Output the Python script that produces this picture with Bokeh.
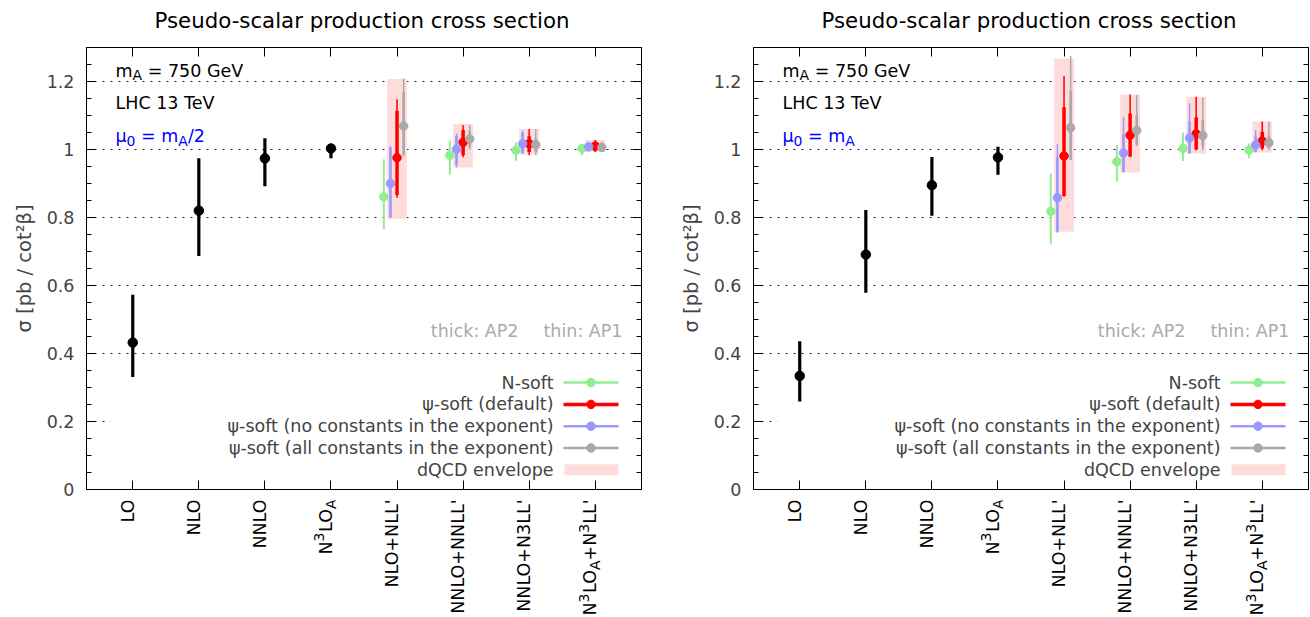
from math import pi
import numpy as np
from bokeh.plotting import figure
from bokeh.models import (ColumnDataSource, Range1d, LinearAxis, FixedTicker, Label,
                          CustomLabelingPolicy)
from bokeh.layouts import row, column
from bokeh.embed import file_html
from bokeh.resources import INLINE

# ---------------- data ----------------
categories = ["LO", "NLO", "NNLO", "N^3LO_A", "NLO+NLL'", "NNLO+NNLL'", "NNLO+N3LL'", "N^3LO_A+N^3LL'"]
fo_pos = [1, 2, 3, 4]
res_pos = [5, 6, 7, 8]

# left panel  (mu0 = mA/2)
L_fo_val = [0.432, 0.820, 0.974, 1.003]
L_fo_lo = [0.331, 0.687, 0.892, 0.974]
L_fo_hi = [0.573, 0.974, 1.033, 1.010]
L_ns_val = [0.861, 0.983, 0.998, 1.003]
L_ns_lo = [0.765, 0.926, 0.967, 0.983]
L_ns_hi = [0.971, 1.026, 1.021, 1.016]
L_def_val = [0.976, 1.021, 1.017, 1.010]
L_def_ap2_lo = [0.866, 0.983, 0.993, 0.996]
L_def_ap2_hi = [1.114, 1.057, 1.039, 1.020]
L_def_ap1_lo = [0.858, 0.977, 0.983, 0.993]
L_def_ap1_hi = [1.148, 1.072, 1.060, 1.028]
L_nc_val = [0.900, 1.001, 1.017, 1.008]
L_nc_ap2_lo = [0.800, 0.955, 0.988, 0.996]
L_nc_ap2_hi = [1.005, 1.040, 1.050, 1.018]
L_nc_ap1_lo = [0.799, 0.947, 0.988, 0.996]
L_nc_ap1_hi = [1.010, 1.047, 1.055, 1.021]
L_ac_val = [1.069, 1.031, 1.014, 1.006]
L_ac_ap2_lo = [0.983, 1.007, 0.993, 0.995]
L_ac_ap2_hi = [1.170, 1.055, 1.033, 1.018]
L_ac_ap1_lo = [0.980, 1.000, 0.983, 0.993]
L_ac_ap1_hi = [1.209, 1.072, 1.060, 1.023]
L_env_lo = [0.796, 0.947, 0.985, 0.993]
L_env_hi = [1.207, 1.075, 1.060, 1.028]

# right panel (mu0 = mA)
R_fo_val = [0.334, 0.691, 0.895, 0.977]
R_fo_lo = [0.259, 0.579, 0.805, 0.926]
R_fo_hi = [0.436, 0.822, 0.978, 1.008]
R_ns_val = [0.818, 0.964, 1.003, 0.998]
R_ns_lo = [0.721, 0.905, 0.966, 0.974]
R_ns_hi = [0.930, 1.013, 1.050, 1.018]
R_def_val = [0.981, 1.042, 1.046, 1.025]
R_def_ap2_lo = [0.863, 0.979, 1.000, 1.003]
R_def_ap2_hi = [1.124, 1.106, 1.095, 1.052]
R_def_ap1_lo = [0.861, 0.979, 0.998, 0.998]
R_def_ap1_hi = [1.216, 1.162, 1.155, 1.082]
R_nc_val = [0.858, 0.990, 1.034, 1.013]
R_nc_ap2_lo = [0.758, 0.934, 0.988, 0.993]
R_nc_ap2_hi = [0.977, 1.044, 1.082, 1.038]
R_nc_ap1_lo = [0.755, 0.932, 0.988, 0.991]
R_nc_ap1_hi = [1.016, 1.095, 1.136, 1.057]
R_ac_val = [1.064, 1.056, 1.041, 1.020]
R_ac_ap2_lo = [0.969, 1.013, 1.008, 1.005]
R_ac_ap2_hi = [1.172, 1.103, 1.087, 1.042]
R_ac_ap1_lo = [0.969, 1.010, 0.998, 0.998]
R_ac_ap1_hi = [1.275, 1.160, 1.152, 1.082]
R_env_lo = [0.758, 0.932, 0.988, 0.991]
R_env_hi = [1.268, 1.162, 1.155, 1.082]

y_ticks = [0.0, 0.2, 0.4, 0.6, 0.8, 1.0, 1.2]
y_tick_labels = ["0", "0.2", "0.4", "0.6", "0.8", "1", "1.2"]

title_text = "Pseudo-scalar production cross section"
ylabel_text = "σ [pb / cot²β]"
legend_labels = ["N-soft", "ψ-soft (default)", "ψ-soft (no constants in the exponent)",
                 "ψ-soft (all constants in the exponent)", "dQCD envelope"]

# ---------------- styling ----------------
FONT = "DejaVu Sans"
FS = 17.5
FW, FH = 555, 442
HEAD = 45          # header strip (title)
TOP = 2            # main figure top border
BOT = 11           # main figure bottom border
LH = 617 - HEAD - TOP - FH - BOT
XR = (0.3, 8.7)
YR = (0.0, 1.3)
XS = FW / (XR[1] - XR[0])
YS = FH / (YR[1] - YR[0])
C_GREEN = "#90ee90"
C_RED = "#ff0000"
C_BLUE = "#9999ff"
C_GRAY = "#a9a9a9"
C_ENV = "#ffdcdc"
C_NOTE = "#aaaaaa"

# DejaVu Sans advance widths (units per em 2048)
W = {' ': 651, "'": 563, '(': 799, ')': 799, '+': 1716, '-': 739, '.': 651, '/': 690,
     ':': 690, '=': 1716, 'A': 1401, 'C': 1430, 'G': 1589, 'H': 1540, 'L': 1141,
     'N': 1532, 'O': 1612, 'P': 1235, 'T': 1251, 'V': 1401, 'a': 1255, 'b': 1300,
     'c': 1126, 'd': 1300, 'e': 1260, 'f': 721, 'h': 1298, 'i': 569, 'k': 1186,
     'l': 569, 'm': 1995, 'n': 1298, 'o': 1253, 'p': 1300, 'r': 842, 's': 1067,
     't': 803, 'u': 1298, 'x': 1212, 'μ': 1300, 'ψ': 1600}
for dgt in "0123456789":
    W[dgt] = 1303
SC = 0.8

HIDE = "for (const i of Array.from(indices)) { indices.unset(i) }\nreturn indices"


def tw(s, size):
    return sum(W.get(c, 1250) for c in s) / 2048.0 * size


def parse(markup):
    pieces, buf, i = [], "", 0
    while i < len(markup):
        c = markup[i]
        if c in "^_" and i + 1 < len(markup):
            if buf:
                pieces.append((buf, None))
                buf = ""
            pieces.append((markup[i + 1], "sup" if c == "^" else "sub"))
            i += 2
            continue
        buf += c
        i += 1
    if buf:
        pieces.append((buf, None))
    return pieces


def rich_h(p, markup, x, y, xoff, yoff, size, color):
    cur = xoff
    for t, k in parse(markup):
        fs = size * SC if k else size
        dy = {None: 0.0, "sup": 0.38 * size, "sub": -0.27 * size}[k]
        lead = len(t) - len(t.lstrip(" "))
        cur += tw(t[:lead], fs)
        core = t.strip(" ")
        if core:
            p.add_layout(Label(x=x, y=y, x_offset=cur, y_offset=yoff + dy, text=core,
                               text_font=FONT, text_font_size=f"{fs:.2f}px", text_color=color,
                               text_align="left", text_baseline="alphabetic"))
        cur += tw(t[lead:], fs)


def rich_v(p, markup, x, size, top_off, base_dx):
    # p is the label strip figure whose y data unit is one pixel (0 at top)
    cur = top_off
    for t, k in reversed(parse(markup)):
        fs = size * SC if k else size
        dx = {None: 0.0, "sup": -0.38 * size, "sub": 0.27 * size}[k]
        p.add_layout(Label(x=x, y=-cur, x_offset=base_dx + dx, y_offset=0, text=t,
                           angle=pi / 2, text_font=FONT, text_font_size=f"{fs:.2f}px",
                           text_color="black", text_align="right", text_baseline="alphabetic"))
        cur += tw(t, fs)


def hidden_axis(ticker, minor_in):
    return LinearAxis(ticker=ticker, major_label_text_font_size="0px", major_label_standoff=0,
                      major_label_policy=CustomLabelingPolicy(code=HIDE),
                      major_tick_in=9, major_tick_out=0, minor_tick_in=minor_in, minor_tick_out=0)


def strip_fig(x_range, height, border_right):
    s = figure(frame_width=FW, frame_height=height, x_range=x_range, y_range=Range1d(-height, 0),
               output_backend="svg", toolbar_location=None,
               min_border_left=86, min_border_right=border_right,
               min_border_top=0, min_border_bottom=0,
               x_axis_location=None, y_axis_location=None)
    s.outline_line_color = None
    s.xgrid.visible = False
    s.ygrid.visible = False
    return s


def make_panel(d, mu_markup, border_right):
    p = figure(frame_width=FW, frame_height=FH, x_range=Range1d(*XR), y_range=Range1d(*YR),
               output_backend="svg", toolbar_location=None,
               min_border_left=86, min_border_right=border_right,
               min_border_top=TOP, min_border_bottom=BOT,
               x_axis_location=None)
    p.background_fill_color = "white"
    p.border_fill_color = "white"
    p.outline_line_color = "black"
    p.outline_line_width = 1

    minor = [float(v) for v in np.round(np.arange(0, 1.3001, 0.05), 2)]
    yt = FixedTicker(ticks=y_ticks, minor_ticks=minor)
    xt = FixedTicker(ticks=[float(i + 1) for i in range(len(categories))], minor_ticks=[])

    ax = p.yaxis[0]
    ax.ticker = yt
    ax.major_label_overrides = dict(zip(y_ticks, y_tick_labels))
    ax.axis_label = ylabel_text
    ax.axis_label_text_font = FONT
    ax.axis_label_text_font_size = "19.5px"
    ax.axis_label_text_font_style = "normal"
    ax.axis_label_standoff = 8
    ax.major_label_text_font = FONT
    ax.major_label_text_font_size = f"{FS}px"
    ax.major_label_standoff = 12
    ax.major_tick_in, ax.major_tick_out = 9, 0
    ax.minor_tick_in, ax.minor_tick_out = 5, 0

    p.add_layout(hidden_axis(xt, 0), "below")
    p.add_layout(hidden_axis(yt, 5), "right")
    p.add_layout(hidden_axis(xt, 0), "above")

    p.xgrid.visible = False
    p.ygrid.ticker = FixedTicker(ticks=y_ticks[1:])
    p.ygrid.grid_line_color = "#222222"
    p.ygrid.grid_line_dash = "2 6"
    p.ygrid.grid_line_width = 1.2

    # envelope
    env = ColumnDataSource(dict(l=[x - 0.15 for x in res_pos], r=[x + 0.15 for x in res_pos],
                                b=d["env_lo"], t=d["env_hi"]))
    p.quad(left="l", right="r", bottom="b", top="t", source=env, fill_color=C_ENV, line_color=None)

    # legend background (opaque box)
    p.quad(left=[XR[0] + 24 / XS], right=[XR[1]], bottom=[YR[0]], top=[124 / YS],
           fill_color="white", line_color=None)

    # fixed order
    fo = ColumnDataSource(dict(x=fo_pos, v=d["fo_val"], lo=d["fo_lo"], hi=d["fo_hi"]))
    p.segment(x0="x", x1="x", y0="lo", y1="hi", source=fo, line_color="black", line_width=3.2)
    p.scatter(x="x", y="v", source=fo, size=9.5, color="black")

    series = [
        ("ns", C_GREEN, -0.2, 2.0),
        ("def", C_RED, 0.0, 3.5),
        ("nc", C_BLUE, -0.1, 2.6),
        ("ac", C_GRAY, 0.1, 2.6),
    ]
    for key, col, off, lw in series:
        xs = [x + off for x in res_pos]
        if key == "ns":
            s = ColumnDataSource(dict(x=xs, v=d["ns_val"], lo=d["ns_lo"], hi=d["ns_hi"]))
            p.segment(x0="x", x1="x", y0="lo", y1="hi", source=s, line_color=col, line_width=lw)
        else:
            s = ColumnDataSource(dict(x=xs, v=d[key + "_val"], lo1=d[key + "_ap1_lo"],
                                      hi1=d[key + "_ap1_hi"], lo2=d[key + "_ap2_lo"],
                                      hi2=d[key + "_ap2_hi"]))
            p.segment(x0="x", x1="x", y0="lo1", y1="hi1", source=s, line_color=col, line_width=1.5)
            p.segment(x0="x", x1="x", y0="lo2", y1="hi2", source=s, line_color=col, line_width=lw)
        p.scatter(x="x", y="v", source=s, size=8.5, color=col)

    # manual legend (text left, sample right)
    row_off = [106.9, 85.1, 63.3, 41.5, 19.7]
    samp = [(C_GREEN, 2.5), (C_RED, 3.5), (C_BLUE, 2.5), (C_GRAY, 2.5)]
    for i, lab in enumerate(legend_labels):
        yy = row_off[i] / YS
        p.add_layout(Label(x=XR[1], y=yy, x_offset=-88, y_offset=0, text=lab, text_font=FONT,
                           text_font_size=f"{FS}px", text_align="right", text_baseline="middle"))
        if i < 4:
            col, lw = samp[i]
            p.line(x=[XR[1] - 78 / XS, XR[1] - 23 / XS], y=[yy, yy], line_color=col, line_width=lw)
            p.scatter(x=[XR[1] - 50.5 / XS], y=[yy], size=8.5, color=col)
        else:
            p.quad(left=[XR[1] - 77 / XS], right=[XR[1] - 23 / XS], bottom=[yy - 5.5 / YS],
                   top=[yy + 5.5 / YS], fill_color=C_ENV, line_color=None)

    # AP note
    p.add_layout(Label(x=XR[1], y=YR[0], x_offset=-19, y_offset=159, text="thin: AP1",
                       text_font=FONT, text_font_size=f"{FS}px", text_color=C_NOTE,
                       text_align="right", text_baseline="alphabetic"))
    p.add_layout(Label(x=XR[1], y=YR[0], x_offset=-123, y_offset=159, text="thick: AP2",
                       text_font=FONT, text_font_size=f"{FS}px", text_color=C_NOTE,
                       text_align="right", text_baseline="alphabetic"))

    # top-left annotations
    rich_h(p, "m_A = 750 GeV", XR[0], YR[1], 29, -23, FS, "black")
    rich_h(p, "LHC 13 TeV", XR[0], YR[1], 29, -55, FS, "black")
    rich_h(p, mu_markup, XR[0], YR[1], 29, -88.5, FS, "#0000ff")

    # header strip with the title
    head = strip_fig(p.x_range, HEAD, border_right)
    head.add_layout(Label(x=(XR[0] + XR[1]) / 2, y=-20, x_offset=-2, text=title_text,
                          text_font=FONT, text_font_size="21.3px", text_align="center",
                          text_baseline="middle", text_color="black"))

    # strip below the frame holding the rotated category labels
    strip = strip_fig(p.x_range, LH, border_right)
    for i, cat in enumerate(categories):
        rich_v(strip, cat, float(i + 1), FS, -1, -5.0)
    return column(head, p, strip, spacing=0)


def pack(prefix):
    g = globals()
    keys = ["fo_val", "fo_lo", "fo_hi", "ns_val", "ns_lo", "ns_hi", "env_lo", "env_hi"]
    for s in ["def", "nc", "ac"]:
        keys += [s + "_val", s + "_ap1_lo", s + "_ap1_hi", s + "_ap2_lo", s + "_ap2_hi"]
    return {k: g[prefix + k] for k in keys}


c1 = make_panel(pack("L_"), "μ_0 = m_A/2", 26)
c2 = make_panel(pack("R_"), "μ_0 = m_A", 2)
layout = row(c1, c2, spacing=0)

open("out.html", "w").write(file_html(layout, INLINE))
